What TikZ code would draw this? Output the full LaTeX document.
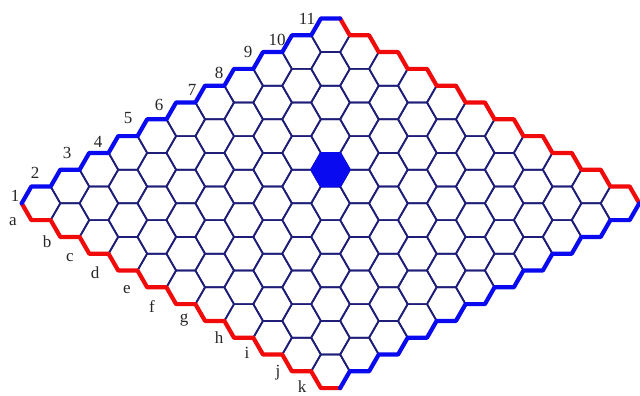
\documentclass[tikz,border=0pt]{standalone}
\usepackage{fontspec}
\setmainfont{Liberation Serif}
\usetikzlibrary{calc}
\definecolor{gridnavy}{HTML}{1E1E78}
\definecolor{sideblue}{HTML}{0A0AF0}
\definecolor{sidered}{HTML}{F00A0A}
\begin{document}
\begin{tikzpicture}[x=1pt,y=-1pt,
  cellline/.style={draw=gridnavy,line width=1.7pt,line join=round},
  blueside/.style={draw=sideblue,line width=4.2pt,line join=round,line cap=round},
  redside/.style={draw=sidered,line width=4.2pt,line join=round,line cap=round},
  lab/.style={font=\fontsize{17}{17}\selectfont,text=black!85,inner sep=0pt}]
\fill[white] (0,0) rectangle (640,396);
\useasboundingbox (0,0) rectangle (640,396);
% cell centres
\foreach \i in {0,...,10}{\foreach \j in {0,...,10}{
  \coordinate (c-\i-\j) at ({41+28.95*(\i+\j)},{203.3+16.8*(\j-\i)});
}}
% grid of hexagons
\foreach \i in {0,...,10}{\foreach \j in {0,...,10}{
  \draw[cellline] (c-\i-\j) ++(-19.3,0) -- ++(9.65,-16.8) -- ++(19.3,0)
     -- ++(9.65,16.8) -- ++(-9.65,16.8) -- ++(-19.3,0) -- cycle;
}}
% occupied cell
\filldraw[fill=sideblue,draw=sideblue,line width=1.7pt,line join=round]
  (c-6-4) ++(-19.3,0) -- ++(9.65,-16.8) -- ++(19.3,0)
  -- ++(9.65,16.8) -- ++(-9.65,16.8) -- ++(-19.3,0) -- cycle;
% borders
\draw[redside] ($(c-0-0)+(-19.3,0)$)
  \foreach \j in {0,...,10}{ -- ($(c-0-\j)+(-9.65,16.8)$) -- ($(c-0-\j)+(9.65,16.8)$) };
\draw[redside] ($(c-10-0)+(9.65,-16.8)$) -- ($(c-10-0)+(19.3,0)$)
  \foreach \j in {1,...,10}{ -- ($(c-10-\j)+(9.65,-16.8)$) -- ($(c-10-\j)+(19.3,0)$) };
\draw[blueside] ($(c-0-0)+(-19.3,0)$)
  \foreach \i in {0,...,10}{ -- ($(c-\i-0)+(-9.65,-16.8)$) -- ($(c-\i-0)+(9.65,-16.8)$) };
\draw[blueside] ($(c-10-10)+(19.3,0)$) -- ($(c-10-10)+(9.65,16.8)$)
  \foreach \i in {9,...,0}{ -- ($(c-\i-10)+(19.3,0)$) -- ($(c-\i-10)+(9.65,16.8)$) };
% labels
\node[lab] (n1) at (15,196) {1};
\node[lab] (n2) at (35,173) {2};
\node[lab] (n3) at (67,153) {3};
\node[lab] (n4) at (98,142) {4};
\node[lab] (n5) at (128,118) {5};
\node[lab] (n6) at (159,105) {6};
\node[lab] (n7) at (192,90) {7};
\node[lab] (n8) at (219,73) {8};
\node[lab] (n9) at (248,52) {9};
\node[lab] (n10) at (277,40) {10};
\node[lab] (n11) at (307,19) {11};
\node[lab] (la) at (13,222) {a};
\node[lab] (lb) at (47,242) {b};
\node[lab] (lc) at (70,258) {c};
\node[lab] (ld) at (95,273) {d};
\node[lab] (le) at (127,290) {e};
\node[lab] (lf) at (152,307) {f};
\node[lab] (lg) at (184,320) {g};
\node[lab] (lh) at (219,338) {h};
\node[lab] (li) at (247,353) {i};
\node[lab] (lj) at (278,373) {j};
\node[lab] (lk) at (302,387) {k};
\end{tikzpicture}
\end{document}
